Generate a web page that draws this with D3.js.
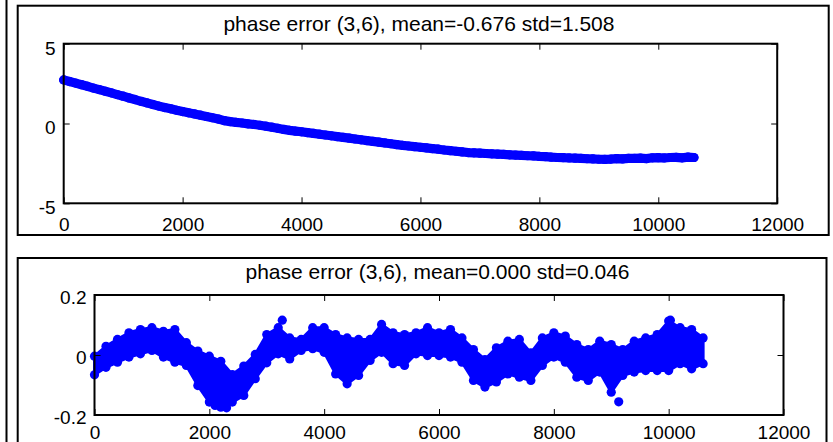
<!DOCTYPE html>
<html>
<head>
<meta charset="utf-8">
<script src="https://cdn.jsdelivr.net/npm/d3@7"></script>
<style>
  body { margin: 0; background: #fff; }
  text { font-family: "Liberation Sans", Arial, sans-serif; fill: #000; }
</style>
</head>
<body>
<div id="chart"></div>
<script>
// DATA
// ==================================
var xTicks = [0, 2000, 4000, 6000, 8000, 10000, 12000];
var yTicksTop = [-5, 0, 5];
var yTicksBottom = [-0.2, 0, 0.2];
var titleTop = "phase error (3,6), mean=-0.676 std=1.508";
var titleBottom = "phase error (3,6), mean=0.000 std=0.046";

// upper plot: one sample every 100 points, 0 .. 10600
var topStep = 100;
var topValues = [
  2.73, 2.63, 2.53, 2.43, 2.33, 2.22, 2.12, 2.02, 1.92, 1.81,
  1.71, 1.60, 1.50, 1.39, 1.29, 1.19, 1.09, 1.00, 0.92, 0.83,
  0.75, 0.67, 0.60, 0.52, 0.44, 0.36, 0.28, 0.18, 0.12, 0.07,
  0.03, -0.02, -0.06, -0.11, -0.17, -0.23, -0.30, -0.37, -0.43, -0.48,
  -0.52, -0.57, -0.62, -0.67, -0.72, -0.77, -0.82, -0.87, -0.92, -0.97,
  -1.02, -1.07, -1.12, -1.17, -1.22, -1.27, -1.32, -1.37, -1.41, -1.45,
  -1.49, -1.53, -1.57, -1.61, -1.66, -1.70, -1.74, -1.78, -1.82, -1.84,
  -1.86, -1.88, -1.90, -1.92, -1.94, -1.96, -1.98, -2.00, -2.02, -2.03,
  -2.06, -2.08, -2.11, -2.13, -2.14, -2.16, -2.17, -2.19, -2.21, -2.22,
  -2.24, -2.25, -2.23, -2.20, -2.22, -2.19, -2.19, -2.17, -2.20, -2.15,
  -2.14, -2.16, -2.13, -2.12, -2.15, -2.11, -2.13
];

// lower plot: upper / lower edge of the point cloud every 200 points
var bandStep = 200;
var bandUpper = [
  -0.004, 0.029, 0.052, 0.074, 0.085, 0.091, 0.079, 0.085, 0.041, 0.013,
  -0.004, -0.021, -0.065, -0.037, 0.002, 0.068, 0.091, 0.057, 0.052, 0.091,
  0.091, 0.068, 0.057, 0.052, 0.052, 0.102, 0.074, 0.068, 0.074, 0.091,
  0.074, 0.085, 0.057, 0.018, -0.015, 0.024, 0.046, 0.052, 0.007, 0.057,
  0.074, 0.063, 0.035, 0.018, 0.046, 0.035, 0.018, 0.046, 0.057, 0.068,
  0.113, 0.091, 0.085, 0.057
];
var bandLower = [
  -0.066, -0.041, -0.024, -0.007, 0.004, 0.015, -0.007, -0.024, -0.035, -0.102,
  -0.157, -0.174, -0.157, -0.135, -0.079, -0.026, 0.004, -0.013, 0.015, 0.021,
  0.009, -0.063, -0.096, -0.068, -0.018, 0.009, -0.029, -0.035, 0.004, -0.002,
  -0.002, -0.007, -0.024, -0.085, -0.107, -0.090, -0.063, -0.074, -0.085, -0.035,
  -0.007, -0.024, -0.074, -0.085, -0.057, -0.124, -0.068, -0.057, -0.052, -0.052,
  -0.052, -0.029, -0.046, -0.029
];
var bandOutliersX = [2100, 2300, 3270, 9130, 10030];
var bandOutliersY = [-0.168, -0.176, 0.116, -0.156, 0.116];

// LAYOUT
// ==================================
var svgWidth = 833;
var svgHeight = 442;
var dotColor = "#0000ff";
var dotR = 4.6;

var svg = d3.select("#chart")
  .append("svg")
  .attr("width", svgWidth)
  .attr("height", svgHeight);

svg.append("rect")
  .attr("width", svgWidth)
  .attr("height", svgHeight)
  .attr("fill", "#fff");

// outer frame line on the left
svg.append("line")
  .attr("x1", 6.5).attr("x2", 6.5)
  .attr("y1", 0).attr("y2", svgHeight)
  .attr("stroke", "#000")
  .attr("stroke-width", 2);

// panel frames
svg.append("rect")
  .attr("x", 17.7).attr("y", 5.7)
  .attr("width", 811).attr("height", 229.3)
  .attr("fill", "none").attr("stroke", "#000").attr("stroke-width", 2);

svg.append("rect")
  .attr("x", 17.7).attr("y", 258)
  .attr("width", 808.8).attr("height", 200)
  .attr("fill", "none").attr("stroke", "#000").attr("stroke-width", 2);

// Function to draw the MATLAB style box axes
function drawAxes(opts) {
  var g = svg.append("g");
  var x = opts.x, y = opts.y;
  var left = x.range()[0], right = x.range()[1];
  var bottom = y.range()[0], top = y.range()[1];

  var bottomAxis = d3.axisBottom(x).tickValues(xTicks).tickFormat(d => String(d))
    .tickSizeInner(-6).tickSizeOuter(0).tickPadding(opts.xPad);
  var topAxis = d3.axisTop(x).tickValues(xTicks)
    .tickSizeInner(-6).tickSizeOuter(0).tickFormat("");
  var leftAxis = d3.axisLeft(y).tickValues(opts.yTicks).tickFormat(d => String(d))
    .tickSizeInner(-6).tickSizeOuter(0).tickPadding(8);
  var rightAxis = d3.axisRight(y).tickValues(opts.yTicks)
    .tickSizeInner(-6).tickSizeOuter(0).tickFormat("");

  var gb = g.append("g").attr("transform", `translate(0, ${bottom})`).call(bottomAxis);
  var gt = g.append("g").attr("transform", `translate(0, ${top})`).call(topAxis);
  var gl = g.append("g").attr("transform", `translate(${left}, 0)`).call(leftAxis);
  var gr = g.append("g").attr("transform", `translate(${right}, 0)`).call(rightAxis);

  g.selectAll(".domain").remove();
  g.selectAll(".tick line").attr("stroke", "#000").attr("stroke-width", 1);
  g.selectAll(".tick text")
    .attr("fill", "#000")
    .style("font-family", "'Liberation Sans', Arial, sans-serif")
    .style("font-size", "19px");
  gl.selectAll(".tick text").attr("dy", opts.yDy);

  g.append("rect")
    .attr("x", left).attr("y", top)
    .attr("width", right - left).attr("height", bottom - top)
    .attr("fill", "none").attr("stroke", "#000").attr("stroke-width", 2);

  svg.append("text")
    .attr("x", (left + right) / 2 - 1.5)
    .attr("y", opts.titleY)
    .attr("text-anchor", "middle")
    .style("font-size", "21px")
    .text(opts.title);
}

// UPPER PLOT
// ==================================
var xTop = d3.scaleLinear().domain([0, 12000]).range([63.7, 777.2]);
var yTop = d3.scaleLinear().domain([-5, 5]).range([203.3, 43.7]);

var topLine = d3.line()
  .x((d, i) => xTop(i * topStep))
  .y(d => yTop(d));

var topG = svg.append("g");

// dense samples: the point cloud reads as a thick continuous trace
topG.append("path")
  .datum(topValues)
  .attr("d", topLine)
  .attr("fill", "none")
  .attr("stroke", dotColor)
  .attr("stroke-width", dotR * 2)
  .attr("stroke-linecap", "round")
  .attr("stroke-linejoin", "round");

topG.selectAll("circle")
  .data(topValues)
  .enter()
  .append("circle")
  .attr("cx", (d, i) => xTop(i * topStep))
  .attr("cy", d => yTop(d))
  .attr("r", dotR)
  .attr("fill", dotColor);

drawAxes({ x: xTop, y: yTop, yTicks: yTicksTop, xPad: 14, yDy: "0.55em",
  title: titleTop, titleY: 30.7 });

// LOWER PLOT
// ==================================
var xBot = d3.scaleLinear().domain([0, 12000]).range([94.5, 783.5]);
var yBot = d3.scaleLinear().domain([-0.2, 0.2]).range([415, 295]);

var band = d3.area()
  .x((d, i) => xBot(i * bandStep))
  .y0((d, i) => yBot(bandLower[i]))
  .y1(d => yBot(d));

var lowerG = svg.append("g");

lowerG.append("path")
  .datum(bandUpper)
  .attr("d", band)
  .attr("fill", dotColor)
  .attr("stroke", dotColor)
  .attr("stroke-width", 3)
  .attr("stroke-linejoin", "round");

lowerG.selectAll("circle.up")
  .data(bandUpper)
  .enter()
  .append("circle")
  .attr("class", "up")
  .attr("cx", (d, i) => xBot(i * bandStep))
  .attr("cy", d => yBot(d))
  .attr("r", dotR)
  .attr("fill", dotColor);

lowerG.selectAll("circle.lo")
  .data(bandLower)
  .enter()
  .append("circle")
  .attr("class", "lo")
  .attr("cx", (d, i) => xBot(i * bandStep))
  .attr("cy", d => yBot(d))
  .attr("r", dotR)
  .attr("fill", dotColor);

lowerG.selectAll("circle.out")
  .data(bandOutliersX)
  .enter()
  .append("circle")
  .attr("class", "out")
  .attr("cx", d => xBot(d))
  .attr("cy", (d, i) => yBot(bandOutliersY[i]))
  .attr("r", dotR)
  .attr("fill", dotColor);

drawAxes({ x: xBot, y: yBot, yTicks: yTicksBottom, xPad: 11, yDy: "0.44em",
  title: titleBottom, titleY: 278.5 });
</script>
</body>
</html>
